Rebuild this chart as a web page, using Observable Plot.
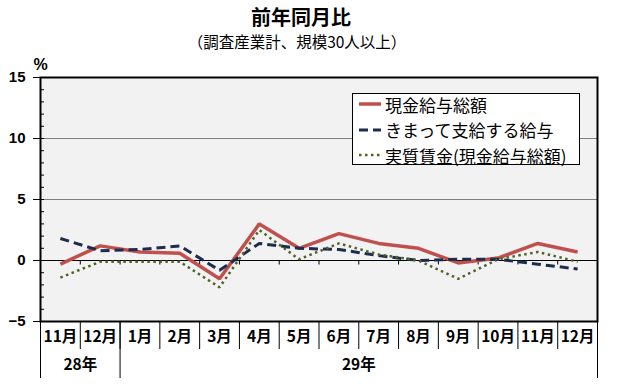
<!DOCTYPE html>
<html>
<head>
<meta charset="utf-8">
<script src="https://cdn.jsdelivr.net/npm/d3@7"></script>
<script src="https://cdn.jsdelivr.net/npm/@observablehq/plot@0.6"></script>
<style>
  body { margin: 0; background: #fff; }
  #wrap { position: relative; width: 629px; height: 391px; }
  #legend { position: absolute; left: 352px; top: 93px; width: 228px; height: 72px;
    border: 1px solid #000; background: #fff; box-sizing: border-box;
    font-family: "Noto Sans CJK JP", sans-serif; font-size: 17px; color: #000; }
  .row { position: absolute; left: 5px; height: 24px; display: flex; align-items: center; white-space: nowrap; }
  .row svg { margin-right: 3px; }
</style>
</head>
<body>
<div id="wrap"><div id="legend"></div></div>
<script>
// ---- data ----
const months = ["11月","12月","1月","2月","3月","4月","5月","6月","7月","8月","9月","10月","11月","12月"];
const yearOfMonth = ["28年","28年","29年","29年","29年","29年","29年","29年","29年","29年","29年","29年","29年","29年"];
const seriesNames = ["現金給与総額","きまって支給する給与","実質賃金(現金給与総額)"];
const totalPay   = [-0.3, 1.2, 0.7, 0.6, -1.5, 3.0, 1.0, 2.2, 1.4, 1.0, -0.2, 0.2, 1.4, 0.7];
const regularPay = [ 1.8, 0.8, 0.9, 1.2, -0.8, 1.4, 1.0, 0.9, 0.4, 0.0,  0.1, 0.1, -0.3, -0.7];
const realWage   = [-1.4,-0.1,-0.1,-0.1, -2.2, 2.5, 0.1, 1.4, 0.5, 0.0, -1.5, 0.1, 0.7, -0.1];
const yTicks = [-5, 0, 5, 10, 15];
const title = "前年同月比";
const subtitle = "（調査産業計、規模30人以上）";
const unit = "%";

// ---- styles ----
const styles = [
  {stroke: "#c0504d", strokeWidth: 3.5, strokeDasharray: null},
  {stroke: "#1c2d4d", strokeWidth: 3, strokeDasharray: "9,5"},
  {stroke: "#4f6228", strokeWidth: 2.5, strokeDasharray: "2.5,3.5"}
];
const seriesValues = [totalPay, regularPay, realWage];

const rows = [];
seriesValues.forEach((vals, s) => vals.forEach((v, i) => rows.push({series: seriesNames[s], i, v})));

const idx = months.map((_, i) => i);
const boundaries = d3.range(0.5, months.length - 1, 1);
const minorTicks = d3.range(-5, 16, 1);
const yearGroups = d3.groups(idx, i => yearOfMonth[i]).map(([label, is]) => ({label, mid: (d3.min(is) + d3.max(is)) / 2, start: d3.min(is) - 0.5}));
const yearEdges = yearGroups.map(g => g.start).concat([months.length - 0.5]);
const monthEdges = d3.range(-0.5, months.length, 1);

const tickDown = { draw(ctx) { ctx.moveTo(0, 0); ctx.lineTo(0, 4); } };

const W = 629, H = 391;
const frameW = W - 40 - 32, frameH = H - 77 - 70;
const font = "'Noto Sans CJK JP', sans-serif";

const chart = Plot.plot({
  width: W, height: H,
  marginTop: 77, marginBottom: 70, marginLeft: 40, marginRight: 32,
  x: {type: "linear", domain: [-0.5, months.length - 0.5], axis: null},
  y: {domain: [-5, 15], axis: null},
  style: {fontFamily: font, background: "#fff"},
  marks: [
    Plot.frame({fill: "#f2f2f2"}),
    Plot.ruleY([5, 10], {stroke: "#808080", strokeWidth: 1}),
    Plot.ruleY([0], {stroke: "#000", strokeWidth: 1}),
    Plot.dot(boundaries, {x: d => d, y: () => 0, symbol: tickDown, stroke: "#000", strokeWidth: 1, r: 4}),
    Plot.tickY(minorTicks, {y: d => d, stroke: "#000", insetRight: frameW - 4}),
    Plot.tickY(yTicks, {y: d => d, stroke: "#000", insetLeft: -7, insetRight: frameW}),
    Plot.text(yTicks, {y: d => d, text: d => String(d).replace("-", "−"), frameAnchor: "left", textAnchor: "end", dx: -15,
      fontSize: 15, fontWeight: "bold", fontFamily: "'Liberation Sans', Arial, sans-serif"}),
    ...seriesNames.map((name, s) => Plot.line(rows.filter(r => r.series === name), {
      x: "i", y: "v", stroke: styles[s].stroke, strokeWidth: styles[s].strokeWidth,
      strokeDasharray: styles[s].strokeDasharray, strokeLinejoin: "miter", strokeLinecap: "butt"})),
    Plot.frame({stroke: "#000", strokeWidth: 2}),
    // category axis
    Plot.ruleX(monthEdges, {x: d => d, stroke: "#000", insetTop: frameH, insetBottom: -28}),
    Plot.ruleX(yearEdges, {x: d => d, stroke: "#000", insetTop: frameH, insetBottom: -57}),
    Plot.text(idx, {x: d => d, text: d => months[d], frameAnchor: "bottom", lineAnchor: "middle", dy: 16,
      fontSize: 15.5, fontWeight: "bold"}),
    Plot.text(yearGroups, {x: "mid", text: "label", frameAnchor: "bottom", lineAnchor: "middle", dy: 44,
      fontSize: 15.5, fontWeight: "bold"}),
    // titles
    Plot.text([title], {text: d => d, frameAnchor: "top", lineAnchor: "middle", dx: -18, dy: -59, fontSize: 20, fontWeight: "bold"}),
    Plot.text([subtitle], {text: d => d, frameAnchor: "top", lineAnchor: "middle", dx: -22, dy: -34, fontSize: 15.5}),
    Plot.text([unit], {text: d => d, frameAnchor: "top-left", lineAnchor: "middle", dx: -7, dy: -13, fontSize: 16, fontWeight: "bold",
      fontFamily: "'Liberation Sans', Arial, sans-serif"})
  ]
});
document.getElementById("wrap").prepend(chart);

// legend
const legend = document.getElementById("legend");
seriesNames.forEach((name, s) => {
  const row = document.createElement("div");
  row.className = "row";
  row.style.top = (-2 + s * 25.5) + "px";
  const st = styles[s];
  row.innerHTML = `<svg width="24" height="10"><line x1="1" y1="5" x2="23" y2="5" stroke="${st.stroke}" stroke-width="${st.strokeWidth}" ${st.strokeDasharray ? `stroke-dasharray="${st.strokeDasharray}"` : ""}/></svg><span>${name}</span>`;
  legend.appendChild(row);
});
</script>
</body>
</html>
